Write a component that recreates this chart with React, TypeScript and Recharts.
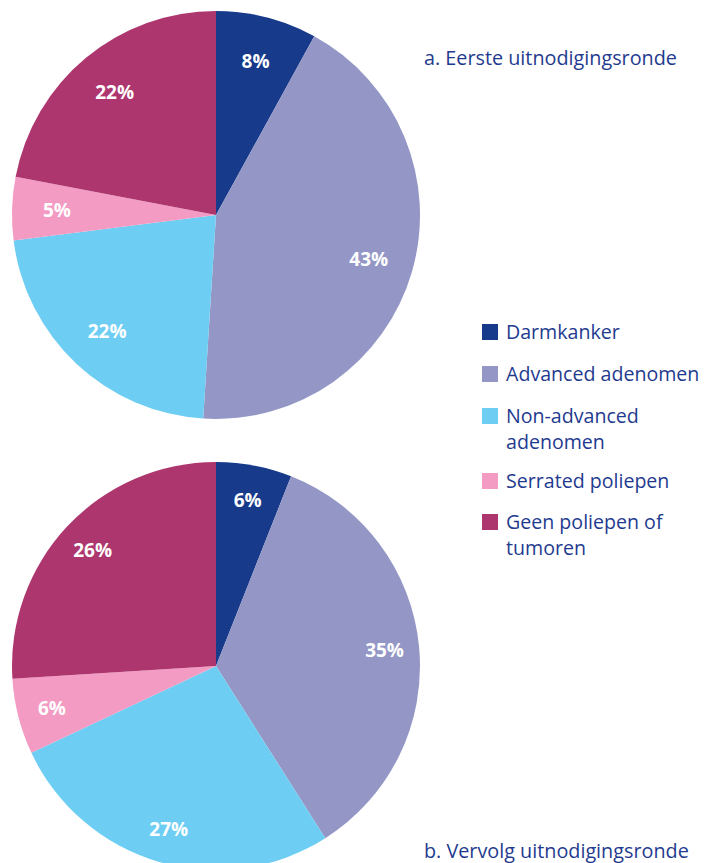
import { PieChart, Pie, Cell } from "recharts"

const categories = ["Darmkanker", "Advanced adenomen", "Non-advanced adenomen", "Serrated poliepen", "Geen poliepen of tumoren"]
const colors = ["#173a8b", "#9497c6", "#6dcdf3", "#f39bc3", "#ae366f"]
const eersteRonde = [8, 43, 22, 5, 22]
const vervolgRonde = [6, 35, 27, 6, 26]

const titleA = "a. Eerste uitnodigingsronde"
const titleB = "b. Vervolg uitnodigingsronde"

const textColor = "#1f3b8f"
const font = "'Open Sans', 'Noto Sans', sans-serif"

const toData = (values: number[]) => categories.map((name, i) => ({ name, value: values[i] }))

const RADIAN = Math.PI / 180

const makeLabel = (factor: number) => ({ cx, cy, midAngle, outerRadius, value }: any) => {
  const r = outerRadius * factor
  const x = cx + r * Math.cos(-midAngle * RADIAN)
  const y = cy + r * Math.sin(-midAngle * RADIAN)
  return (
    <text x={x} y={y} fill="#fff" textAnchor="middle" dominantBaseline="central" fontSize={19} fontWeight={700} fontFamily={font}>
      {value}%
    </text>
  )
}

const legendRows = [
  { lines: ["Darmkanker"], top: 319 },
  { lines: ["Advanced adenomen"], top: 361 },
  { lines: ["Non-advanced", "adenomen"], top: 403 },
  { lines: ["Serrated poliepen"], top: 468 },
  { lines: ["Geen poliepen of", "tumoren"], top: 509 },
]

export default function App() {
  return (
    <div style={{ position: "absolute", left: 0, top: 0, width: 716, height: 863, background: "#fff", overflow: "hidden", fontFamily: font }}>
      <PieChart width={716} height={863} margin={{ top: 0, right: 0, bottom: 0, left: 0 }}>
        <Pie
          data={toData(eersteRonde)}
          dataKey="value"
          cx={216}
          cy={215}
          outerRadius={204}
          startAngle={90}
          endAngle={-270}
          stroke="none"
          label={makeLabel(0.78)}
          labelLine={false}
          isAnimationActive={false}
        >
          {categories.map((c, i) => (
            <Cell key={c} fill={colors[i]} />
          ))}
        </Pie>
        <Pie
          data={toData(vervolgRonde)}
          dataKey="value"
          cx={216}
          cy={666}
          outerRadius={204}
          startAngle={90}
          endAngle={-270}
          stroke="none"
          label={makeLabel(0.83)}
          labelLine={false}
          isAnimationActive={false}
        >
          {categories.map((c, i) => (
            <Cell key={c} fill={colors[i]} />
          ))}
        </Pie>
      </PieChart>
      <div style={{ position: "absolute", left: 424, top: 44, fontSize: 19.8, color: textColor, whiteSpace: "nowrap" }}>{titleA}</div>
      <div style={{ position: "absolute", left: 424, top: 837, fontSize: 19.8, color: textColor, whiteSpace: "nowrap" }}>{titleB}</div>
      {legendRows.map((row, i) => (
        <div key={i} style={{ position: "absolute", left: 482, top: row.top, display: "flex", alignItems: "flex-start" }}>
          <div style={{ width: 16, height: 16, background: colors[i], marginTop: 5, marginRight: 8 }} />
          <div style={{ fontSize: 19.6, lineHeight: "26px", color: textColor, whiteSpace: "nowrap" }}>
            {row.lines.map((l) => (
              <div key={l}>{l}</div>
            ))}
          </div>
        </div>
      ))}
    </div>
  )
}
